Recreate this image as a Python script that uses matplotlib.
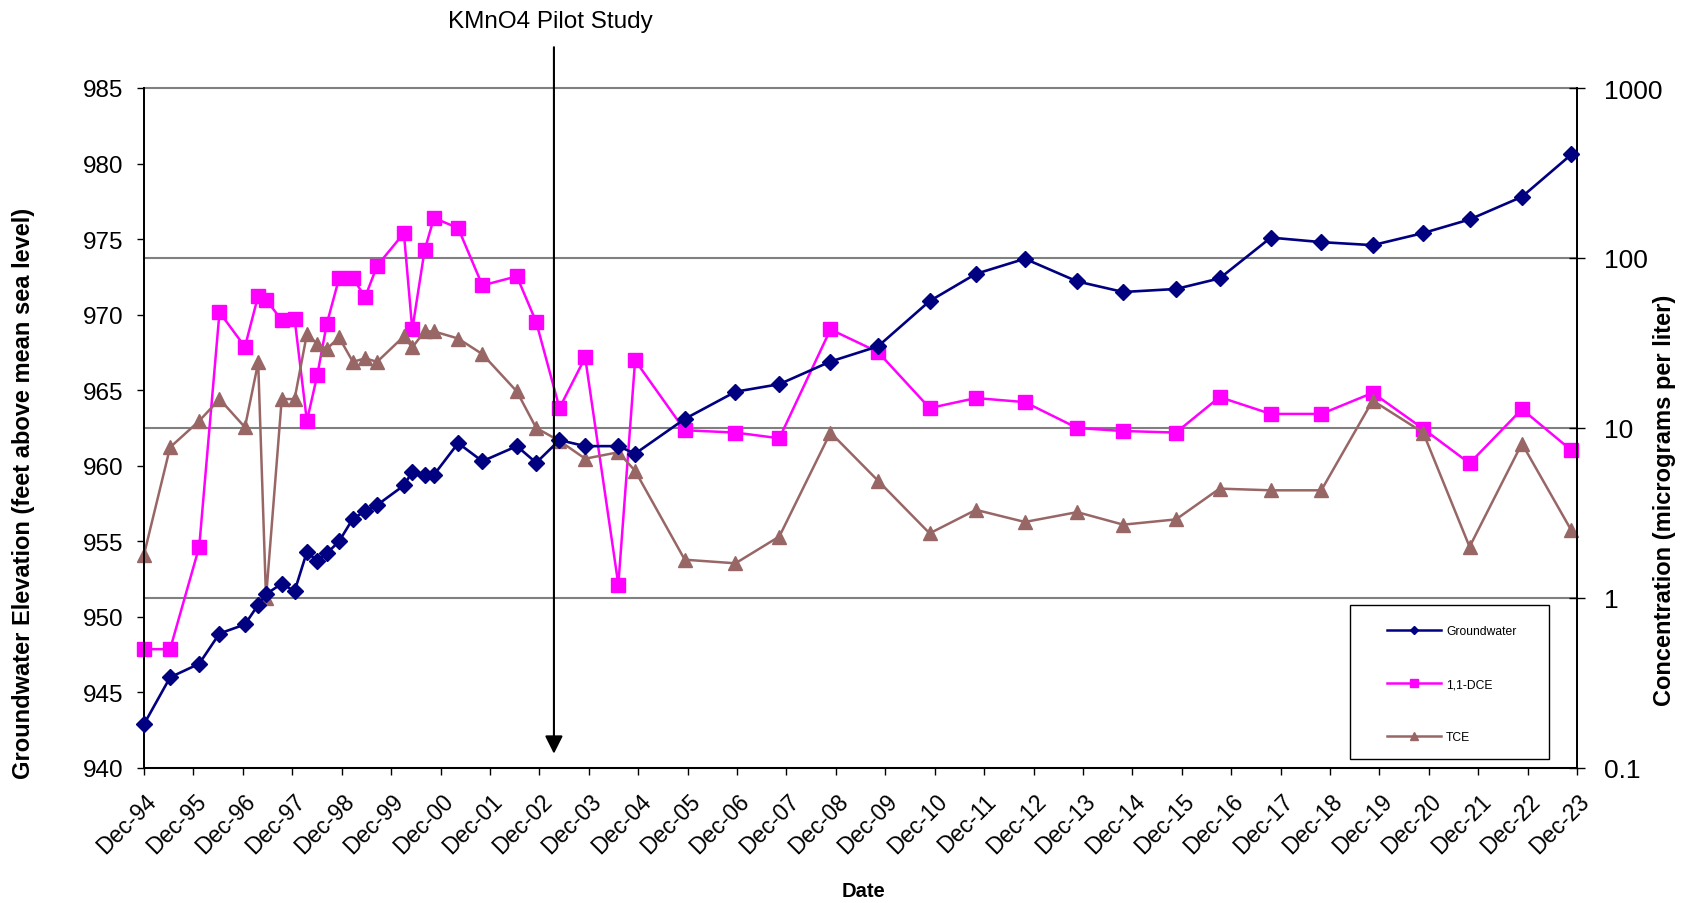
import matplotlib
matplotlib.use("Agg")
import matplotlib.pyplot as plt
import matplotlib.dates as mdates
import matplotlib.transforms as mtransforms
from matplotlib.lines import Line2D
from matplotlib.patches import Rectangle
import pandas as pd

plt.rcParams['font.family'] = ['Liberation Sans', 'DejaVu Sans']

# sampling events (same dates for water level and both VOCs)
sample_dates = pd.to_datetime([
    '1994-12-01', '1995-06-12', '1996-01-13', '1996-06-11', '1996-12-16',
    '1997-03-24', '1997-05-21', '1997-09-14', '1997-12-18', '1998-03-19',
    '1998-06-04', '1998-08-13', '1998-11-12', '1999-02-22', '1999-05-24',
    '1999-08-20', '2000-03-05', '2000-05-06', '2000-08-05', '2000-10-13',
    '2001-04-10', '2001-10-06', '2002-06-18', '2002-11-08', '2003-04-29',
    '2003-11-05', '2004-07-07', '2004-11-08', '2005-11-10', '2006-11-20',
    '2007-10-10', '2008-10-22', '2009-10-08', '2010-10-25', '2011-10-02',
    '2012-09-28', '2013-10-20', '2014-09-25', '2015-10-20', '2016-09-06',
    '2017-09-20', '2018-09-28', '2019-10-13', '2020-10-20', '2021-09-28',
    '2022-10-20', '2023-10-20',
])

# groundwater elevation, ft above mean sea level
groundwater = [
    942.9, 946.0, 946.9, 948.9, 949.5, 950.8, 951.5, 952.2, 951.7, 954.3,
    953.7, 954.2, 955.0, 956.5, 957.0, 957.4, 958.7, 959.6, 959.4, 959.4,
    961.5, 960.3, 961.3, 960.2, 961.7, 961.3, 961.3, 960.8, 963.1, 964.9,
    965.4, 966.9, 967.9, 970.9, 972.7, 973.7, 972.2, 971.5, 971.7, 972.4,
    975.1, 974.8, 974.6, 975.4, 976.3, 977.8, 980.6,
]

# 1,1-DCE, ug/L
dce = [
    0.5, 0.5, 2.0, 48, 30, 60, 57, 43, 44, 11,
    20.5, 41, 76, 76, 59, 90, 140, 38, 111, 172,
    150, 69, 78, 42, 13.1, 26, 1.2, 25, 9.7, 9.4,
    8.7, 38, 28, 13.1, 15.0, 14.2, 10.0, 9.6, 9.4, 15.2,
    12.1, 12.1, 16.1, 9.9, 6.2, 12.9, 7.4,
]

# TCE, ug/L
tce = [
    1.8, 7.7, 11.0, 14.8, 10.1, 24.3, 1.0, 14.8, 14.8, 35.7,
    31.2, 29.2, 34.1, 24.5, 25.7, 24.5, 34.6, 29.8, 37, 37,
    33.6, 27.2, 16.4, 10.0, 8.4, 6.6, 7.2, 5.6, 1.68, 1.6,
    2.3, 9.4, 4.9, 2.4, 3.3, 2.8, 3.2, 2.7, 2.9, 4.4,
    4.3, 4.3, 14.5, 9.4, 2.0, 8.1, 2.5,
]

pilot_date = mdates.date2num(pd.Timestamp('2003-03-19'))

navy = '#000080'
magenta = '#FF00FF'
brown = '#996666'

fig = plt.figure(figsize=(16.9, 9.04), dpi=100)
ax = fig.add_axes([144 / 1690, 1 - 769 / 904, 1433 / 1690, 680 / 904])
ax2 = ax.twinx()
ax.set_zorder(ax2.get_zorder() + 1)
ax.patch.set_visible(False)

# concentrations on the log axis
ax2.plot(sample_dates, dce, color=magenta, lw=1.8, marker='s', ms=10.5,
         mec=magenta, clip_on=False, zorder=3)
ax2.plot(sample_dates, tce, color=brown, lw=1.8, marker='^', ms=10.5,
         mec=brown, clip_on=False, zorder=3)

# water level on the linear axis
ax.plot(sample_dates, groundwater, color=navy, lw=1.9, marker='D', ms=8.5,
        mec=navy, clip_on=False, zorder=3)

ax.set_ylim(940, 985)
ax.set_yticks(range(940, 986, 5))
ax2.set_yscale('log')
ax2.set_ylim(0.1, 1000)
ax2.set_yticks([0.1, 1, 10, 100, 1000])
ax2.set_yticklabels(['0.1', '1', '10', '100', '1000'])
ax2.yaxis.set_minor_locator(matplotlib.ticker.NullLocator())

ax2.set_axisbelow(True)
ax2.grid(axis='y', color='#808080', lw=1.5)
for gl in ax2.get_ygridlines():
    gl.set_clip_on(False)

ax.set_xlim(pd.Timestamp('1994-12-01'), pd.Timestamp('2023-12-01'))
ax.xaxis.set_major_locator(mdates.MonthLocator(bymonth=12, bymonthday=1))
ax.xaxis.set_major_formatter(mdates.DateFormatter('%b-%y'))

for a in (ax, ax2):
    a.spines['top'].set_visible(False)
    for s in ('left', 'right', 'bottom'):
        a.spines[s].set_color('black')
        a.spines[s].set_linewidth(1.3)

ax.tick_params(axis='y', direction='out', length=5, width=1, pad=10, labelsize=17.5)
ax.tick_params(axis='x', direction='out', length=5, width=1, pad=16, labelsize=16.5)
ax2.tick_params(axis='y', direction='inout', length=11, width=1, pad=14, labelsize=19)

shift = mtransforms.ScaledTranslation(9 / 100, 0, fig.dpi_scale_trans)
for lab in ax.get_xticklabels():
    lab.set_rotation(45)
    lab.set_ha('right')
    lab.set_va('center')
    lab.set_rotation_mode('anchor')
    lab.set_transform(lab.get_transform() + shift)

# pilot study marker
ax.annotate('', xy=(pilot_date, 0.021), xytext=(pilot_date, 1.06),
            xycoords=ax.get_xaxis_transform(), textcoords=ax.get_xaxis_transform(),
            arrowprops=dict(arrowstyle='-|>,head_length=0.9,head_width=0.45',
                            mutation_scale=12, color='black', lw=1.5,
                            shrinkA=0, shrinkB=0),
            annotation_clip=False, zorder=10)
fig.text(550 / 1690, 1 - 22 / 904, 'KMnO4 Pilot Study', ha='center', va='center',
         fontsize=17.5)

fig.text(24 / 1690, 1 - 493 / 904, 'Groundwater Elevation (feet above mean sea level)',
         rotation=90, ha='center', va='center', fontsize=17, fontweight='bold')
fig.text(1665 / 1690, 1 - 500 / 904, 'Concentration (micrograms per liter)',
         rotation=90, ha='center', va='center', fontsize=17, fontweight='bold')
fig.text(864 / 1690, 1 - 892 / 904, 'Date', ha='center', va='center',
         fontsize=14.5, fontweight='bold')

# legend box
fig.patches.append(Rectangle((1350 / 1690, 1 - 760 / 904), 199 / 1690, 154 / 904,
                             transform=fig.transFigure, facecolor='white',
                             edgecolor='black', lw=1, zorder=4))
handles = [
    Line2D([], [], color=navy, lw=1.8, marker='D', ms=4),
    Line2D([], [], color=magenta, lw=1.8, marker='s', ms=6),
    Line2D([], [], color=brown, lw=1.8, marker='^', ms=6),
]
fig.legend(handles, ['Groundwater', '1,1-DCE', 'TCE'], loc='upper left',
           bbox_to_anchor=(1387 / 1690, 1 - 626 / 904), frameon=False,
           borderpad=0, borderaxespad=0, handlelength=4.5, handletextpad=0.4,
           labelspacing=3.4, fontsize=8.7).set_zorder(5)

fig.savefig('out.png', dpi=100)
